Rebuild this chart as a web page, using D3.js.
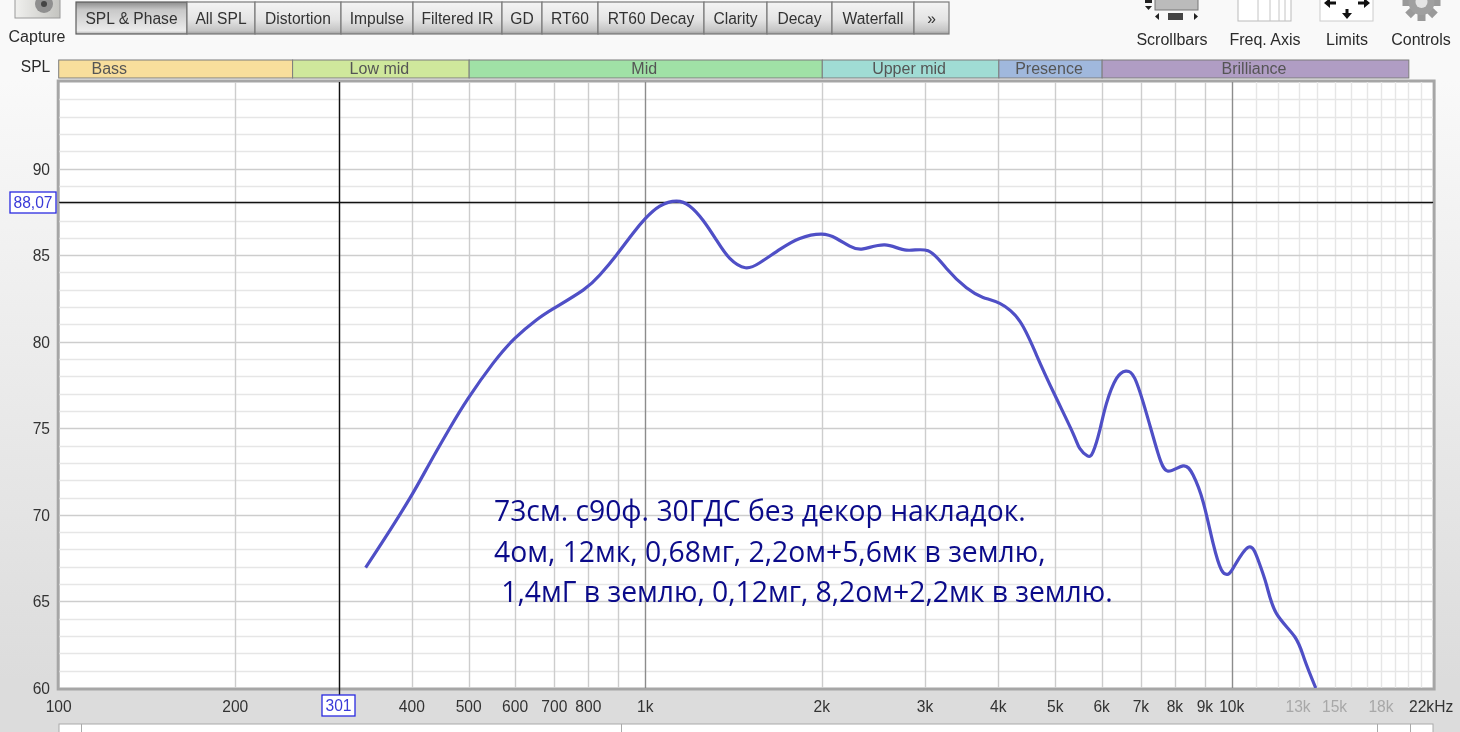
<!DOCTYPE html>
<html><head><meta charset="utf-8">
<script src="https://cdn.jsdelivr.net/npm/d3@7"></script>
<style>html,body{margin:0;padding:0;background:#f9f9f9;overflow:hidden}svg{display:block;filter:blur(0.45px)}text{font-family:"Liberation Sans",Arial,sans-serif}</style>
</head><body><svg id="c" width="1460" height="732"></svg>
<script>
const freqHz=[333,356,396,428,463,498,549,598,651,697,782,835,891,950,999,1057,1128,1189,1252,1320,1391,1479,1565,1693,1831,1994,2114,2227,2347,2556,2783,3029,3257,3522,3759,4015,4342,4637,4983,5352,5495,5663,5790,5945,6103,6348,6583,6820,7140,7473,7770,8244,8575,8918,9276,9585,9797,10030,10640,11070,11440,11890,12780,13290,13880];
const splDb=[66.95,68.45,70.95,72.97,74.99,76.73,78.75,80.19,81.25,81.92,82.98,83.85,85.0,86.24,87.12,87.83,88.12,87.83,87.02,85.87,84.81,84.27,84.56,85.33,85.96,86.21,85.96,85.52,85.36,85.59,85.29,85.25,84.23,83.11,82.56,82.21,81.19,79.23,76.92,74.71,73.84,73.41,73.64,74.90,76.44,77.88,78.30,77.88,75.86,73.55,72.53,72.83,72.30,70.76,68.35,66.81,66.56,66.91,68.12,67.39,65.95,64.31,62.96,61.62,60.0];
const yTicks=[60,65,70,75,80,85,90];
const yMinor=[61,62,63,64,66,67,68,69,71,72,73,74,76,77,78,79,81,82,83,84,86,87,88,89,91,92,93,94];
const xGrid=[200,300,400,500,600,700,800,900,2000,3000,4000,5000,6000,7000,8000,9000];
const xDecades=[1000,10000];
const xFine=[11000,12000,13000,14000,15000,16000,17000,18000,19000,20000,21000];
const xLabels=[[100,"100"],[200,"200"],[400,"400"],[500,"500"],[600,"600"],[700,"700"],[800,"800"],[1000,"1k"],[2000,"2k"],[3000,"3k"],[4000,"4k"],[5000,"5k"],[6000,"6k"],[7000,"7k"],[8000,"8k"],[9000,"9k"],[10000,"10k"]];
const xLabelsFaint=[[13000,"13k"],[15000,"15k"],[18000,"18k"]];
const bandNames=["Bass","Low mid","Mid","Upper mid","Presence","Brilliance"];
const bandEdges=[60,250,500,2000,4000,6000,20000];
const bandColors=["#f8de9c","#cfe89c","#a0e1a6","#a0dcd4","#a0b8dd","#b09dc4"];
const cursorHz=301, cursorDb=88.07;
const tabs=[["SPL & Phase",76,187],["All SPL",187,255],["Distortion",255,341],["Impulse",341,413],["Filtered IR",413,502],["GD",502,542],["RT60",542,598],["RT60 Decay",598,704],["Clarity",704,767],["Decay",767,832],["Waterfall",832,914],["»",914,949]];
const notes=["73см. с90ф. 30ГДС без декор накладок.","4ом, 12мк, 0,68мг, 2,2ом+5,6мк в землю,"," 1,4мГ в землю, 0,12мг, 8,2ом+2,2мк в землю."];

const L=59.2,R=1433.1,T=82,B=688;
const FS=15.6;
const x=d3.scaleLog().domain([100,22000]).range([L,R]);
const y=d3.scaleLinear().domain([60,95]).range([B,T]);
const svg=d3.select("#c");
const defs=svg.append("defs");
const grad=(id,stops,vert=true)=>{const g=defs.append("linearGradient").attr("id",id).attr("x1",0).attr("y1",0).attr("x2",vert?0:1).attr("y2",vert?1:0);
  stops.forEach(s=>g.append("stop").attr("offset",s[0]).attr("stop-color",s[1]));};
grad("bg",[[0,"#f9f9f9"],[0.11,"#f9f9f9"],[0.93,"#dcdcdc"],[1,"#dcdcdc"]]);
grad("tab",[[0,"#f4f4f4"],[0.55,"#e4e4e4"],[0.9,"#c4c4c4"],[1,"#9a9a9a"]]);
grad("tabOn",[[0,"#8c8c8c"],[0.25,"#c8c8c8"],[0.9,"#ececec"],[1,"#b0b0b0"]]);
grad("cam",[[0,"#f0f0ee"],[1,"#c4c4c0"]],false);
defs.append("clipPath").attr("id","plotClip").append("rect").attr("x",L).attr("y",T).attr("width",R-L).attr("height",B-T);
svg.append("rect").attr("width",1460).attr("height",732).attr("fill","url(#bg)");

// toolbar
const tb=svg.append("g");
tb.selectAll("rect").data(tabs).join("rect").attr("x",d=>d[1]).attr("y",2).attr("width",d=>d[2]-d[1]).attr("height",32)
  .attr("fill",(d,i)=>i?"url(#tab)":"url(#tabOn)").attr("stroke",(d,i)=>i?"#7a7a7a":"#5e5e5e").attr("stroke-width",1.2);
tb.selectAll("text").data(tabs).join("text").attr("x",d=>(d[1]+d[2])/2).attr("y",24).attr("text-anchor","middle").attr("font-size",FS).attr("fill","#333").text(d=>d[0]);

// left + right chrome
const label=(t,cx,by,fs=FS+0.4,fill="#2b2b2b",a="middle")=>svg.append("text").attr("x",cx).attr("y",by).attr("text-anchor",a).attr("font-size",fs).attr("fill",fill).text(t);
const tri=(pts,f="#222")=>svg.append("path").attr("d","M"+pts.map(p=>p.join(",")).join("L")+"Z").attr("fill",f);
svg.append("rect").attr("x",15).attr("y",-6).attr("width",45).attr("height",24).attr("fill","url(#cam)").attr("stroke","#9a9a9a");
svg.append("circle").attr("cx",44).attr("cy",4).attr("r",9).attr("fill","#8f8f8f");
svg.append("circle").attr("cx",44).attr("cy",4).attr("r",3).attr("fill","#444");
label("Capture",37,42);
label("Scrollbars",1172,45); label("Freq. Axis",1265,45); label("Limits",1347,45); label("Controls",1421,45);
svg.append("rect").attr("x",1155).attr("y",-3).attr("width",43).attr("height",13).attr("fill","#bbb").attr("stroke","#777");
svg.append("rect").attr("x",1145).attr("y",0).attr("width",7).attr("height",3).attr("fill","#222");
tri([[1145,6],[1152,6],[1148.5,10]]);
svg.append("rect").attr("x",1168).attr("y",13).attr("width",15).attr("height",7).attr("fill","#444");
tri([[1159,13],[1159,20],[1155,16.5]]); tri([[1194,13],[1194,20],[1198,16.5]]);
svg.append("rect").attr("x",1238).attr("y",-3).attr("width",53).attr("height",24).attr("fill","#fff").attr("stroke","#bbb");
[1258,1270,1279,1285].forEach(v=>svg.append("line").attr("x1",v).attr("x2",v).attr("y1",0).attr("y2",21).attr("stroke","#c4c4c4"));
svg.append("rect").attr("x",1320).attr("y",-3).attr("width",53).attr("height",24).attr("fill","#fff").attr("stroke","#ccc");
tri([[1324,3],[1330,-2],[1330,1.5],[1336,1.5],[1336,4.5],[1330,4.5],[1330,8]],"#111");
tri([[1370,3],[1364,-2],[1364,1.5],[1358,1.5],[1358,4.5],[1364,4.5],[1364,8]],"#111");
tri([[1347,19],[1342,13],[1345.5,13],[1345.5,9],[1348.5,9],[1348.5,13],[1352,13]],"#111");
svg.append("g").selectAll("rect").data(d3.range(8)).join("rect").attr("x",1417.5).attr("y",-17).attr("width",8).attr("height",7).attr("fill","#9a9a9a")
  .attr("transform",d=>`rotate(${d*45} 1421.5 2)`);
svg.append("circle").attr("cx",1421.5).attr("cy",2).attr("r",13).attr("fill","#a0a0a0");
svg.append("circle").attr("cx",1421.5).attr("cy",2).attr("r",6).attr("fill","#e4e4e4");
label("SPL",35.5,72,FS);

// frequency bands
const bands=bandNames.map((n,i)=>({n,a:bandEdges[i],b:bandEdges[i+1],c:bandColors[i]}));
const bx=f=>Math.max(L-0.5,x(f));
svg.append("g").selectAll("rect").data(bands).join("rect").attr("x",d=>bx(d.a)).attr("y",60).attr("width",d=>x(d.b)-bx(d.a)).attr("height",18)
  .attr("fill",d=>d.c).attr("stroke","#7d7d7d").attr("stroke-width",1);
svg.append("g").selectAll("text").data(bands).join("text").attr("x",d=>x(Math.sqrt(d.a*d.b))-1.5).attr("y",73.5).attr("text-anchor","middle").attr("font-size",FS+0.4).attr("fill","#555").text(d=>d.n);

// plot
svg.append("rect").attr("x",L-1).attr("y",T-1).attr("width",R-L+2).attr("height",B-T+2).attr("fill","#fff").attr("stroke","#a6a6a6").attr("stroke-width",3);
const grid=svg.append("g").attr("clip-path","url(#plotClip)");
const hl=(arr,col)=>grid.append("g").selectAll("line").data(arr).join("line").attr("x1",L).attr("x2",R).attr("y1",d=>Math.round(y(d))+.5).attr("y2",d=>Math.round(y(d))+.5).attr("stroke",col).attr("stroke-width",1.4);
const vl=(arr,col)=>grid.append("g").selectAll("line").data(arr).join("line").attr("y1",T).attr("y2",B).attr("x1",d=>Math.floor(x(d))+.5).attr("x2",d=>Math.floor(x(d))+.5).attr("stroke",col).attr("stroke-width",1.4);
hl(yMinor,"#e6e6e6"); vl(xFine,"#e6e6e6"); hl(yTicks,"#cdcdcd"); vl(xGrid,"#cdcdcd"); vl(xDecades,"#8c8c8c");

// cursor
const cx=Math.floor(x(cursorHz))+.5, cy=Math.round(y(cursorDb))+.5;
svg.append("line").attr("x1",cx).attr("x2",cx).attr("y1",T).attr("y2",695).attr("stroke","#111").attr("stroke-width",1.4);
svg.append("line").attr("x1",L).attr("x2",R).attr("y1",cy).attr("y2",cy).attr("stroke","#111").attr("stroke-width",1.4);

// curve
const line=d3.line().x(d=>x(d[0])).y(d=>y(d[1])).curve(d3.curveNatural);
svg.append("path").datum(d3.zip(freqHz,splDb)).attr("clip-path","url(#plotClip)").attr("d",line).attr("fill","none").attr("stroke","#4f4fc6").attr("stroke-width",3.2).attr("stroke-linejoin","round");

// axes text
svg.append("g").selectAll("text").data(yTicks).join("text").attr("x",50).attr("y",d=>y(d)+6).attr("text-anchor","end").attr("font-size",FS).attr("fill","#333").text(d=>d);
svg.append("g").selectAll("text").data(xLabels).join("text").attr("x",d=>x(d[0])-0.5).attr("y",712).attr("text-anchor","middle").attr("font-size",FS).attr("fill","#333").text(d=>d[1]);
svg.append("g").selectAll("text").data(xLabelsFaint).join("text").attr("x",d=>x(d[0])-1).attr("y",712).attr("text-anchor","middle").attr("font-size",FS).attr("fill","#a8a8a8").text(d=>d[1]);
svg.append("text").attr("x",1409).attr("y",712).attr("font-size",FS).attr("fill","#333").text("22kHz");

// cursor boxes
const box=(x0,y0,w,h,t)=>{svg.append("rect").attr("x",x0).attr("y",y0).attr("width",w).attr("height",h).attr("fill","#fff").attr("stroke","#2a2ae0").attr("stroke-width",1.3);
  svg.append("text").attr("x",x0+w/2).attr("y",y0+h/2+5.5).attr("text-anchor","middle").attr("font-size",FS).attr("fill","#3a3ad8").text(t);};
box(10,192,46,21,String(cursorDb).replace(".",","));
box(322,695,33,21,String(cursorHz));

// scrollbar
svg.append("rect").attr("x",59).attr("y",724).attr("width",1374).attr("height",12).attr("fill","#fff").attr("stroke","#aaa");
[81,621,1377,1410].forEach(v=>svg.append("line").attr("x1",v+.5).attr("x2",v+.5).attr("y1",724).attr("y2",732).attr("stroke","#aaa"));

// note
svg.append("g").selectAll("text").data(notes).join("text").attr("x",494).attr("y",(d,i)=>521+i*40.5).style("white-space","pre")
  .style("font-family",'"Open Sans","Noto Sans",sans-serif').attr("font-size",28.3).attr("fill","#0b0b8a").text(d=>d);
</script></body></html>
